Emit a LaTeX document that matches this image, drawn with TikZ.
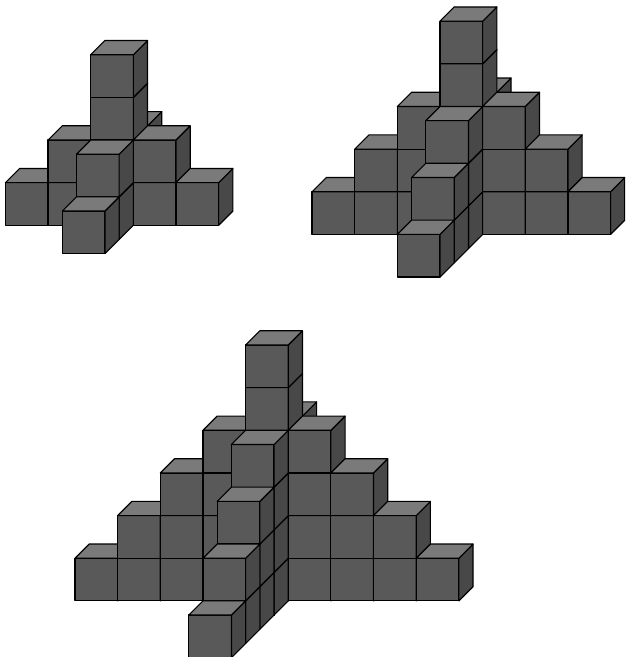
\documentclass[tikz,border=0pt]{standalone}
\tikzset{
  cubeedge/.style={draw=black,line width=0.85pt,line join=round},
  frontface/.style={cubeedge,fill=frontgrey},
  topface/.style={cubeedge,fill=topgrey},
  sideface/.style={cubeedge,fill=sidegrey}
}
\definecolor{frontgrey}{RGB}{89,89,89}
\definecolor{topgrey}{RGB}{122,122,122}
\definecolor{sidegrey}{RGB}{72,72,72}
\newcommand\cubeS{42.65}
\newcommand\cubeO{14.2}
% ox, oy, i, d, l
\newcommand\onecube[5]{%
  \pgfmathsetmacro\cx{#1+(#3)*\cubeS+(#4)*\cubeO}%
  \pgfmathsetmacro\cy{#2-(#5)*\cubeS-(#4)*\cubeO}%
  \path[frontface] (\cx,\cy) rectangle ++(\cubeS,-\cubeS);
  \path[sideface] (\cx+\cubeS,\cy) -- ++(\cubeO,-\cubeO) -- ++(0,-\cubeS) -- ++(-\cubeO,\cubeO) -- cycle;
  \path[topface] (\cx,\cy-\cubeS) -- ++(\cubeS,0) -- ++(\cubeO,-\cubeO) -- ++(-\cubeS,0) -- cycle;
}
% ox, oy, i, d, height
\newcommand\onepile[5]{%
  \foreach \lv in {1,...,#5}{%
    \pgfmathtruncatemacro\lz{\lv-1}%
    \onecube{#1}{#2}{#3}{#4}{\lz}%
  }%
}
% ox, oy, n, back list, row list, front list
\newcommand\crossfig[6]{%
  \foreach \k in {#4}{%
    \pgfmathtruncatemacro\hh{#3+1-abs(\k)}%
    \onepile{#1}{#2}{0}{\k}{\hh}%
  }%
  \foreach \k in {#5}{%
    \pgfmathtruncatemacro\hh{\k==0 ? #3+2 : #3+1-abs(\k)}%
    \onepile{#1}{#2}{\k}{0}{\hh}%
  }%
  \foreach \k in {#6}{%
    \pgfmathtruncatemacro\hh{#3+1-abs(\k)}%
    \onepile{#1}{#2}{0}{\k}{\hh}%
  }%
}
\begin{document}
\begin{tikzpicture}[x=0.75pt,y=-0.75pt]
  \useasboundingbox (0,0) rectangle (625,657);
  \clip (0,0) rectangle (625,657);
  \crossfig{90.7}{225.3}{2}{2,1}{-2,-1,0,1,2}{-1,-2}
  \crossfig{440}{234.4}{3}{3,2,1}{-3,-2,-1,0,1,2,3}{-1,-2,-3}
  \crossfig{245.6}{600.9}{4}{4,3,2,1}{-4,-3,-2,-1,0,1,2,3,4}{-1,-2,-3,-4}
\end{tikzpicture}
\end{document}
